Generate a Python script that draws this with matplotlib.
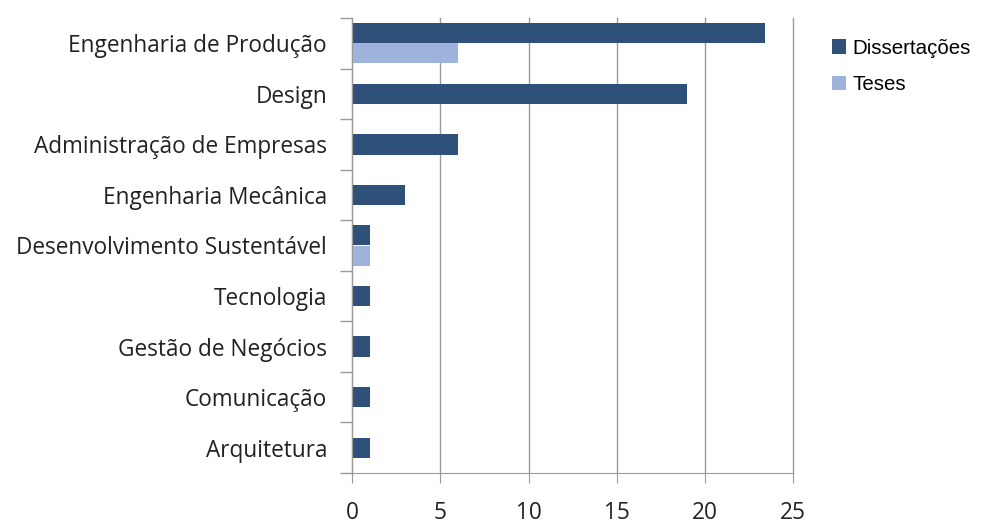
import matplotlib.pyplot as plt
import matplotlib
import numpy as np

cursos = ["Engenharia de Produção", "Design", "Administração de Empresas",
          "Engenharia Mecânica", "Desenvolvimento Sustentável", "Tecnologia",
          "Gestão de Negócios", "Comunicação", "Arquitetura"]
dissertacoes = [23.4, 19, 6, 3, 1, 1, 1, 1, 1]
teses = [6, 0, 0, 0, 1, 0, 0, 0, 0]

cor_diss = "#2E5079"
cor_tes = "#9DB3DC"
cinza = "#9A9A9A"

fig = plt.figure(figsize=(9.81, 5.24), dpi=100)
ax = fig.add_axes([352 / 981, 1 - 473 / 524, (793.3 - 352) / 981, (473 - 18) / 524])

h = 0.4
for i, (d, t) in enumerate(zip(dissertacoes, teses)):
    if t > 0:
        ax.barh(i - h / 2, d, height=h, color=cor_diss, label="Dissertações" if i == 0 else None)
        ax.barh(i + h / 2, t, height=h, color=cor_tes, label="Teses" if i == 0 else None)
    else:
        ax.barh(i, d, height=h, color=cor_diss)

ax.set_xlim(0, 25)
ax.set_ylim(len(cursos) - 0.5, -0.5)
ax.set_xticks(np.arange(0, 26, 5))
ax.set_yticks(range(len(cursos)))
ax.set_yticklabels(cursos)
ax.set_yticks(np.arange(-0.5, len(cursos), 1), minor=True)
ax.tick_params(axis="y", which="major", length=0, pad=18, labelsize=16.3, labelcolor="#222222")
ax.tick_params(axis="y", which="minor", length=9, color=cinza, width=1)
ax.tick_params(axis="x", length=7, color=cinza, pad=13, labelsize=16.3, labelcolor="#222222")
for lbl in ax.get_yticklabels() + ax.get_xticklabels():
    lbl.set_fontfamily("Open Sans")

ax.grid(axis="x", color=cinza, linewidth=1)
for gl in ax.get_xgridlines():
    gl.set_clip_on(False)
ax.set_axisbelow(True)
for s in ("top", "right"):
    ax.spines[s].set_visible(False)
ax.spines["left"].set_color(cinza)
ax.spines["bottom"].set_color(cinza)

leg = ax.legend(loc="upper left", bbox_to_anchor=(813 / 981, 1 - 20 / 524),
                bbox_transform=fig.transFigure, frameon=False,
                prop={"family": "Liberation Sans", "size": 14.8},
                handlelength=0.7, handleheight=0.7, handletextpad=0.3,
                labelspacing=0.85)

fig.savefig("out.png", dpi=100)
